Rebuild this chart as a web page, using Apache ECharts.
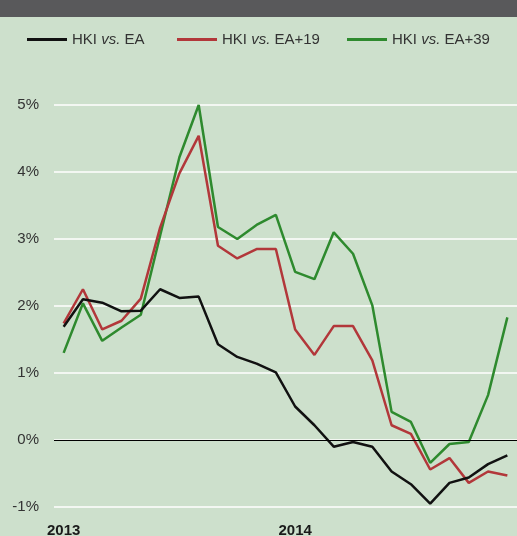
<!DOCTYPE html>
<html>
<head>
<meta charset="utf-8">
<script src="https://cdn.jsdelivr.net/npm/echarts@6/dist/echarts.min.js"></script>
<style>
  html, body { margin: 0; padding: 0; background: #cde0cc; }
  #chart { width: 517px; height: 536px; }
</style>
</head>
<body>
<div id="chart"></div>
<script>
// Monthly points, Jan 2013 .. Dec 2014
const months = [
  '2013-01', '2013-02', '2013-03', '2013-04', '2013-05', '2013-06',
  '2013-07', '2013-08', '2013-09', '2013-10', '2013-11', '2013-12',
  '2014-01', '2014-02', '2014-03', '2014-04', '2014-05', '2014-06',
  '2014-07', '2014-08', '2014-09', '2014-10', '2014-11', '2014-12'
];

// values in percent
const hkiVsEa = [
  1.69, 2.10, 2.05, 1.92, 1.93, 2.25, 2.12, 2.14, 1.43, 1.24, 1.14, 1.01,
  0.50, 0.22, -0.10, -0.03, -0.10, -0.47, -0.66, -0.95, -0.64, -0.56, -0.36, -0.23
];
const hkiVsEa19 = [
  1.74, 2.25, 1.65, 1.78, 2.11, 3.17, 3.98, 4.54, 2.90, 2.71, 2.85, 2.85,
  1.65, 1.27, 1.70, 1.70, 1.19, 0.22, 0.09, -0.44, -0.27, -0.64, -0.47, -0.53
];
const hkiVsEa39 = [
  1.30, 2.04, 1.48, 1.68, 1.87, 3.05, 4.22, 5.00, 3.18, 3.00, 3.21, 3.36,
  2.51, 2.40, 3.10, 2.78, 2.01, 0.42, 0.27, -0.34, -0.06, -0.03, 0.67, 1.83
];

const yearLabels = { 0: '2013', 12: '2014' };

const FONT = '"Liberation Sans", Arial, sans-serif';
const names = ['HKI vs. EA', 'HKI vs. EA+19', 'HKI vs. EA+39'];
const colors = ['#111111', '#b2373a', '#2e8a2e'];

// "vs." is set in italics in the legend
const legendRich = {
  n: { fontFamily: FONT, fontSize: 15, color: '#333' },
  i: { fontFamily: FONT, fontSize: 15, color: '#333', fontStyle: 'italic' }
};
function legendText(name) {
  const parts = name.split('vs.');
  return '{n|' + parts[0] + '}{i|vs.}{n|' + parts[1] + '}';
}

function makeLegend(name, left) {
  return {
    data: [name],
    left: left,
    top: 27,
    icon: 'rect',
    itemWidth: 40,
    itemHeight: 3,
    itemGap: 5,
    formatter: legendText,
    textStyle: { rich: legendRich }
  };
}

const chart = echarts.init(document.getElementById('chart'));

chart.setOption({
  backgroundColor: '#cde0cc',
  animation: false,
  graphic: [{
    type: 'rect',
    shape: { x: 0, y: 0, width: 517, height: 17 },
    style: { fill: '#59595b' },
    silent: true
  }],
  legend: [
    makeLegend(names[0], 22),
    makeLegend(names[1], 172),
    makeLegend(names[2], 342)
  ],
  // keep the plot box fixed; year labels sit at the very bottom edge
  grid: { left: 54, right: 0, top: 105, bottom: 29, outerBoundsMode: 'none' },
  xAxis: {
    type: 'category',
    data: months,
    boundaryGap: true,
    axisLine: { show: false },
    axisTick: { show: false },
    splitLine: { show: false },
    axisLabel: {
      interval: function (idx) { return yearLabels[idx] !== undefined; },
      formatter: function (val, idx) { return yearLabels[idx] || ''; },
      fontFamily: FONT,
      fontSize: 15,
      fontWeight: 'bold',
      color: '#1a1a1a',
      margin: 16
    }
  },
  yAxis: {
    type: 'value',
    min: -1,
    max: 5,
    interval: 1,
    axisLine: { show: false },
    axisTick: { show: false },
    axisLabel: {
      formatter: '{value}%',
      fontFamily: FONT,
      fontSize: 15,
      color: '#333',
      margin: 15
    },
    splitLine: { lineStyle: { color: '#ffffff', width: 1.5 } }
  },
  series: [
    {
      name: names[0], type: 'line', data: hkiVsEa, symbol: 'none',
      color: colors[0], lineStyle: { width: 2.5, color: colors[0] }, z: 4,
      markLine: {
        silent: true, symbol: 'none', label: { show: false },
        lineStyle: { color: '#000', width: 1, type: 'solid' },
        data: [{ yAxis: 0 }]
      }
    },
    {
      name: names[1], type: 'line', data: hkiVsEa19, symbol: 'none',
      color: colors[1], lineStyle: { width: 2.5, color: colors[1] }, z: 3
    },
    {
      name: names[2], type: 'line', data: hkiVsEa39, symbol: 'none',
      color: colors[2], lineStyle: { width: 2.5, color: colors[2] }, z: 2
    }
  ]
});
</script>
</body>
</html>
